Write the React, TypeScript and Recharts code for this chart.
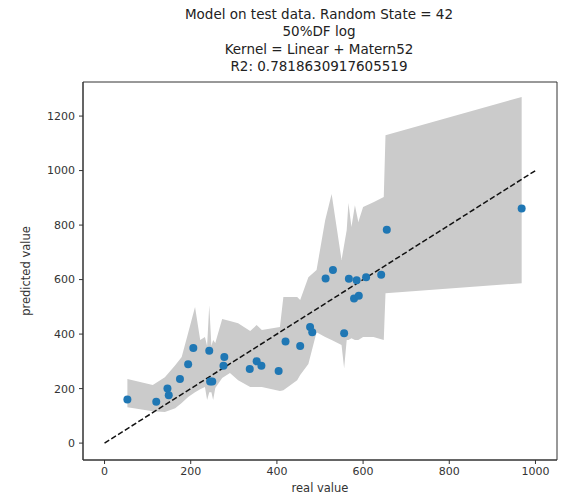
import React from "react";
import {
  Area,
  ComposedChart,
  Line,
  ReferenceArea,
  Scatter,
  XAxis,
  YAxis,
} from "recharts";

// test points: real vs predicted
const realValues = [
  53, 120, 146, 149, 175, 194, 206, 243, 245, 250, 276, 278, 337, 353, 364,
  404, 420, 454, 477, 482, 513, 530, 556, 567, 579, 585, 590, 607, 642, 655, 968,
];
const predictedValues = [
  160, 152, 200, 176, 235, 289, 349, 339, 226, 226, 284, 316, 272, 300, 284,
  265, 373, 356, 426, 407, 604, 635, 403, 603, 531, 598, 541, 609, 618, 783, 861,
];

// confidence band (mean +/- 2 std), vertices along the sorted x
const bandX = [
  53, 112, 140, 164, 179, 194, 210, 222, 233, 238, 243, 248, 252, 257, 273, 291,
  310, 338, 353, 365, 407, 415, 447, 454, 473, 492, 512, 527, 550, 556, 562, 566,
  573, 581, 589, 600, 624, 648, 652, 968,
];
const bandUpper = [
  235, 213, 242, 286, 316, 404, 499, 378, 389, 356, 506, 356, 378, 367, 455, 448,
  440, 411, 433, 415, 426, 536, 536, 525, 609, 635, 818, 914, 672, 727, 782, 881,
  793, 873, 811, 866, 884, 903, 1130, 1270,
];
const bandLower = [
  132, 117, 114, 128, 147, 169, 187, 198, 206, 158, 187, 187, 158, 202, 239, 257,
  231, 206, 206, 206, 191, 194, 231, 250, 290, 407, 389, 378, 360, 275, 378, 378,
  385, 378, 378, 389, 389, 378, 550, 587,
];

const diagonal = [0, 1000];

const xTicks = [0, 200, 400, 600, 800, 1000];
const yTicks = [0, 200, 400, 600, 800, 1000, 1200];

const titleLines = [
  "Model on test data. Random State = 42",
  "50%DF log",
  "Kernel = Linear + Matern52",
  "R2: 0.7818630917605519",
];

const bandData = bandX.map((x, i) => ({ x, band: [bandLower[i], bandUpper[i]] }));
const pointData = realValues.map((x, i) => ({ x, y: predictedValues[i] }));
const lineData = diagonal.map((v) => ({ x: v, diag: v }));

const FONT = "'DejaVu Sans', sans-serif";

const Dot = (p: any) => <circle cx={p.cx} cy={p.cy} r={4} fill="#1f77b4" />;

export default function App() {
  return (
    <div style={{ position: "absolute", left: 0, top: 0, width: 570, height: 495, background: "#fff" }}>
      <svg width={570} height={80} style={{ position: "absolute", left: 0, top: 0 }}>
        {titleLines.map((t, i) => (
          <text
            key={i}
            x={319}
            y={19 + i * 17.3}
            textAnchor="middle"
            fontFamily={FONT}
            fontSize={13.5}
            fill="#222"
          >
            {t}
          </text>
        ))}
      </svg>
      <ComposedChart
        width={570}
        height={495}
        data={bandData}
        margin={{ top: 82, right: 13, bottom: 18, left: 40 }}
        style={{ position: "absolute", left: 0, top: 0, fontFamily: FONT }}
      >
        <XAxis
          dataKey="x"
          type="number"
          domain={[-50, 1050]}
          ticks={xTicks}
          allowDataOverflow
          height={17}
          tickSize={4}
          tickMargin={3}
          stroke="#333"
          tick={{ fontSize: 11, fill: "#333" }}
          label={{ value: "real value", position: "insideBottom", offset: -15, fontSize: 11.5, fill: "#333" }}
        />
        <YAxis
          type="number"
          domain={[-62, 1325]}
          ticks={yTicks}
          allowDataOverflow
          width={43}
          tickSize={4}
          tickMargin={4}
          stroke="#333"
          tick={{ fontSize: 11, fill: "#333" }}
          label={{ value: "predicted value", angle: -90, position: "insideLeft", offset: -14, fontSize: 11.5, fill: "#333", style: { textAnchor: "middle" } }}
        />
        <Area
          dataKey="band"
          type="linear"
          fill="#cbcbcb"
          fillOpacity={1}
          stroke="none"
          isAnimationActive={false}
          activeDot={false}
        />
        <Scatter data={pointData} dataKey="y" shape={Dot} isAnimationActive={false} />
        <Line
          data={lineData}
          dataKey="diag"
          type="linear"
          stroke="#111"
          strokeWidth={1.5}
          strokeDasharray="5.5 2.5"
          dot={false}
          activeDot={false}
          isAnimationActive={false}
        />
        <ReferenceArea x1={-50} x2={1050} y1={-62} y2={1325} fill="none" stroke="#333" strokeWidth={1} ifOverflow="visible" />
      </ComposedChart>
    </div>
  );
}
